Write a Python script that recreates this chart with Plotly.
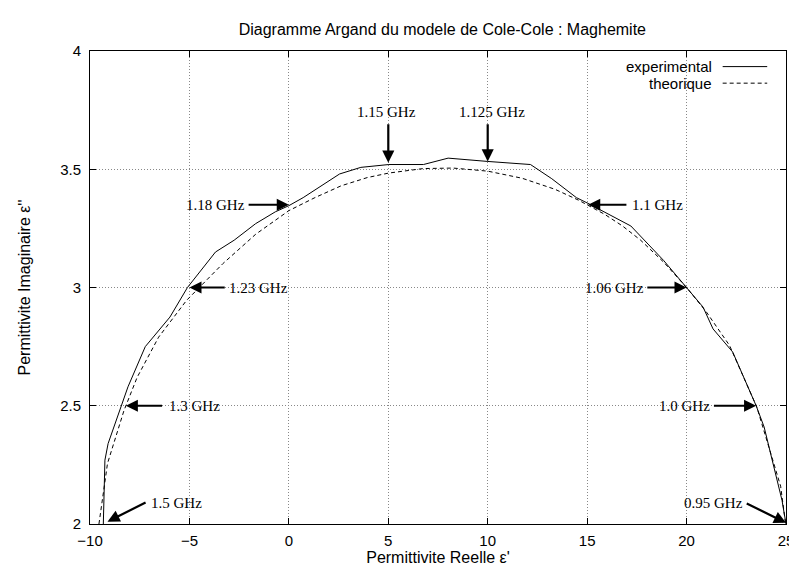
import plotly.graph_objects as go

# experimental Cole-Cole points (eps', eps'')
exp_re = [-9.33, -9.25, -9.09, -8.46, -8.09, -7.22, -5.98, -5.10, -3.69, -2.75,
          -1.67, -0.68, 0.0, 0.72, 2.55, 3.62, 5.03, 6.77, 8.01, 10.0,
          12.15, 13.22, 14.46, 15.04, 17.2, 18.85, 20.0, 20.83, 21.33, 22.32,
          23.5, 23.9, 24.8, 25.0]
exp_im = [2.0, 2.27, 2.34, 2.495, 2.58, 2.75, 2.875, 3.0, 3.15, 3.2,
          3.27, 3.32, 3.346, 3.38, 3.48, 3.508, 3.52, 3.52, 3.547, 3.533,
          3.52, 3.46, 3.38, 3.356, 3.26, 3.114, 3.0, 2.917, 2.825, 2.727,
          2.5, 2.41, 2.1, 2.0]

# theoretical model
th_re = [-9.55, -9.12, -8.29, -7.63, -6.55, -5.15, -3.33, -1.67, 0.0, 1.31,
         2.63, 3.95, 5.03, 6.77, 8.26, 10.0, 11.73, 13.39, 14.55, 15.87,
         16.78, 17.69, 18.85, 20.0, 21.0, 22.16, 23.53, 24.15, 24.73, 24.98]
th_im = [2.0, 2.256, 2.48, 2.62, 2.79, 2.945, 3.10, 3.225, 3.325, 3.38,
         3.43, 3.465, 3.484, 3.503, 3.505, 3.492, 3.462, 3.415, 3.37, 3.31,
         3.26, 3.2, 3.107, 3.0, 2.896, 2.755, 2.495, 2.326, 2.16, 2.0]

# frequency labels: text, label x, label y, anchor, arrow tail, arrow head
freq_labels = ["1.15 GHz", "1.125 GHz", "1.18 GHz", "1.1 GHz", "1.23 GHz",
               "1.06 GHz", "1.3 GHz", "1.0 GHz", "1.5 GHz", "0.95 GHz"]
lab_x = [4.9, 10.2, -2.1, 17.15, -3.1, 17.95, -6.15, 21.3, -7.05, 22.95]
lab_y = [3.744, 3.744, 3.35, 3.35, 3.0, 3.0, 2.5, 2.5, 2.09, 2.09]
lab_anchor = ["center", "center", "right", "left", "left",
              "right", "left", "right", "left", "right"]
tail_x = [5, 10, -2.1, 17.05, -3.15, 17.95, -6.3, 21.3, -7.13, 22.95]
tail_y = [3.697, 3.697, 3.35, 3.35, 3.0, 3.0, 2.5, 2.5, 2.094, 2.09]
head_x = [5, 10, 0, 15.05, -5.0, 20.0, -8.2, 23.5, -9.12, 25.0]
head_y = [3.528, 3.533, 3.35, 3.35, 3.0, 3.0, 2.5, 2.5, 2.01, 2.005]

sans = "Liberation Sans, Arial, Helvetica, sans-serif"
serif = "Liberation Serif, Times New Roman, serif"

fig = go.Figure()
fig.add_trace(go.Scatter(x=exp_re, y=exp_im, mode="lines", name="experimental",
                         line=dict(color="black", width=1)))
fig.add_trace(go.Scatter(x=th_re, y=th_im, mode="lines", name="theorique",
                         line=dict(color="black", width=1, dash="4px,3px")))

anns = []
for i in range(len(freq_labels)):
    anns.append(dict(x=head_x[i], y=head_y[i], ax=tail_x[i], ay=tail_y[i],
                     xref="x", yref="y", axref="x", ayref="y", text="",
                     showarrow=True, arrowhead=2, arrowsize=1.1, arrowwidth=2.2,
                     arrowcolor="black", standoff=0, startstandoff=0))
    anns.append(dict(x=lab_x[i], y=lab_y[i], xref="x", yref="y",
                     text=freq_labels[i], showarrow=False, xanchor=lab_anchor[i],
                     yanchor="middle", font=dict(family=serif, size=15, color="black")))

# gnuplot style key: text then line sample
key_names = ["experimental", "theorique"]
key_y = [0.967, 0.932]
key_dash = ["solid", "4px,3px"]
shapes = []
for i in range(2):
    anns.append(dict(x=0.896, y=key_y[i], xref="paper", yref="paper",
                     text=key_names[i], showarrow=False, xanchor="right",
                     yanchor="middle", font=dict(family=sans, size=15, color="black")))
    shapes.append(dict(type="line", xref="paper", yref="paper",
                       x0=0.909, x1=0.973, y0=key_y[i], y1=key_y[i],
                       line=dict(color="black", width=1, dash=key_dash[i])))

axis_common = dict(
    showgrid=True, gridcolor="#888888", griddash="1px,2px", gridwidth=1,
    zeroline=False, showline=True, linecolor="black", linewidth=1, mirror="ticks",
    ticks="inside", ticklen=6, tickcolor="black",
    tickfont=dict(family=sans, size=15, color="black"),
)

fig.update_layout(
    width=797, height=565,
    margin=dict(l=82, r=11, t=43, b=48),
    paper_bgcolor="white", plot_bgcolor="white",
    showlegend=False,
    title=dict(text="Diagramme Argand du modele de Cole-Cole : Maghemite",
               x=0.545, xanchor="center", y=0.963, yanchor="middle",
               font=dict(family=sans, size=16, color="black")),
    xaxis=dict(range=[-10, 25], dtick=5, tick0=-10, ticklabelstandoff=3,
               title=dict(text="Permittivite Reelle ε'", standoff=2,
                          font=dict(family=sans, size=16, color="black")),
               **axis_common),
    yaxis=dict(range=[2, 4], dtick=0.5, ticklabelstandoff=5,
               title=dict(text="Permittivite Imaginaire ε''", standoff=25,
                          font=dict(family=sans, size=16, color="black")),
               **axis_common),
    annotations=anns, shapes=shapes,
)

fig.write_html("out.html")
